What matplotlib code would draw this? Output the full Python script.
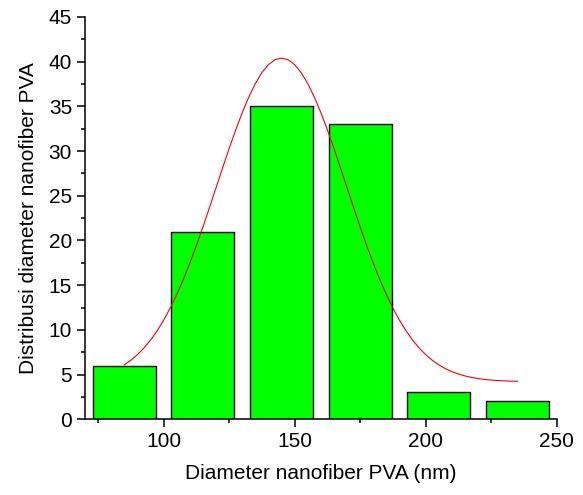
import matplotlib
matplotlib.use("Agg")
import matplotlib.pyplot as plt
from matplotlib.ticker import MultipleLocator

# histogram bins (centres, nm) and counts
bin_centers = [85, 115, 145, 175, 205, 235]
counts = [6, 21, 35, 33, 3, 2]

# fitted curve, every 2.5 nm
curve_x = [85, 87.5, 90, 92.5, 95, 97.5, 100, 102.5, 105, 107.5, 110, 112.5,
           115, 117.5, 120, 122.5, 125, 127.5, 130, 132.5, 135, 137.5, 140,
           142.5, 145, 147.5, 150, 152.5, 155, 157.5, 160, 162.5, 165, 167.5,
           170, 172.5, 175, 177.5, 180, 182.5, 185, 187.5, 190, 192.5, 195,
           197.5, 200, 202.5, 205, 207.5, 210, 212.5, 215, 217.5, 220, 222.5,
           225, 227.5, 230, 232.5, 235]
curve_y = [6.09, 6.61, 7.23, 7.98, 8.86, 9.89, 11.08, 12.44, 13.95, 15.63,
           17.46, 19.43, 21.51, 23.68, 25.89, 28.11, 30.28, 32.36, 34.30,
           36.05, 37.55, 38.77, 39.67, 40.22, 40.40, 40.22, 39.67, 38.77,
           37.55, 36.05, 34.30, 32.36, 30.28, 28.11, 25.89, 23.68, 21.51,
           19.43, 17.46, 15.63, 13.95, 12.44, 11.08, 9.89, 8.86, 7.98, 7.23,
           6.61, 6.09, 5.67, 5.33, 5.07, 4.85, 4.69, 4.56, 4.46, 4.39, 4.34,
           4.30, 4.27, 4.25]

plt.rcParams["font.family"] = ["Liberation Sans", "DejaVu Sans"]

fig = plt.figure(figsize=(5.83, 4.95), dpi=100)
ax = fig.add_axes([0.1458, 0.1529, 0.8091, 0.8128])

ax.bar(bin_centers, counts, width=24, color="#00ff00",
       edgecolor="black", linewidth=1.0, zorder=2)
ax.plot(curve_x, curve_y, color="red", linewidth=0.8, zorder=3)

ax.set_xlim(70, 250)
ax.set_ylim(0, 45)
ax.xaxis.set_major_locator(MultipleLocator(50))
ax.xaxis.set_minor_locator(MultipleLocator(25))
ax.yaxis.set_major_locator(MultipleLocator(5))
ax.yaxis.set_minor_locator(MultipleLocator(2.5))

for s in ["top", "right"]:
    ax.spines[s].set_visible(False)
for s in ["left", "bottom"]:
    ax.spines[s].set_linewidth(1.1)

ax.tick_params(which="major", direction="out", length=5.8, width=1.1,
               labelsize=15)
ax.tick_params(which="minor", direction="out", length=3, width=1.1)

ax.set_xlabel("Diameter nanofiber PVA (nm)", fontsize=15, labelpad=9)
ax.set_ylabel("Distribusi diameter nanofiber PVA", fontsize=15, labelpad=8)

fig.savefig("out.png", dpi=100)
